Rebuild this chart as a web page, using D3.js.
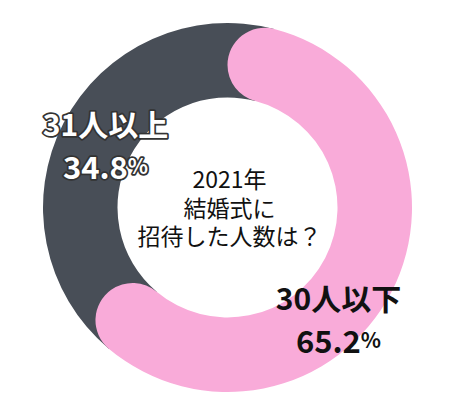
<!DOCTYPE html>
<html>
<head>
<meta charset="utf-8">
<script src="https://cdn.jsdelivr.net/npm/d3@7"></script>
<style>
  body { margin: 0; background: #fff; }
  text { font-family: "Noto Sans CJK JP", "Noto Sans", sans-serif; }
</style>
</head>
<body>
<div id="chart"></div>
<script>
var categories = ["30人以下", "31人以上"];
var values = [65.2, 34.8];
var colors = ["#f9abd9", "#484e57"];
var titleLines = ["2021年", "結婚式に", "招待した人数は？"];

var width = 452,
    height = 414,
    cx = 227.5,
    cy = 207.5,
    outerR = 184.5,
    innerR = 110;

var svg = d3.select("#chart").append("svg")
    .attr("width", width)
    .attr("height", height);

var g = svg.append("g")
    .attr("transform", "translate(" + cx + "," + cy + ")");

var pie = d3.pie().sort(null).value(function(d) { return d; });
var arcs = pie(values);

var half = (outerR - innerR) / 2,
    capAngle = Math.asin(half / (innerR + half));

var arc = d3.arc().innerRadius(innerR).outerRadius(outerR);
var roundArc = d3.arc().innerRadius(innerR).outerRadius(outerR)
    .cornerRadius(half);

// dark slice first, stretched under the rounded ends of the pink one
g.append("path")
    .datum(arcs[1])
    .attr("fill", colors[1])
    .attr("d", function(d) {
      return arc({startAngle: d.startAngle - capAngle, endAngle: d.endAngle + capAngle});
    });

g.append("path")
    .datum(arcs[0])
    .attr("fill", colors[0])
    .attr("d", roundArc);

// center title
g.selectAll("text.title").data(titleLines)
  .join("text")
    .classed("title", true)
    .attr("x", 2)
    .attr("y", function(d, i) { return -29.5 + i * 28.5; })
    .attr("text-anchor", "middle")
    .attr("dominant-baseline", "central")
    .style("font-size", "23px")
    .attr("fill", "#111")
    .text(function(d) { return d; });

// slice labels
var labelPos = [{x: 111, y: 89}, {x: -122, y: -85}];

var labels = g.selectAll("g.label").data(arcs)
  .join("g")
    .classed("label", true)
    .attr("transform", function(d, i) {
      return "translate(" + labelPos[i].x + "," + labelPos[i].y + ")";
    });

labels.each(function(d, i) {
  var sel = d3.select(this);
  var outlined = i == 1;
  function style(t) {
    t.attr("text-anchor", "middle")
      .attr("dominant-baseline", "central")
      .style("font-weight", "bold")
      .attr("fill", outlined ? "#fff" : "#111");
    if (outlined) {
      t.attr("stroke", "#333")
        .attr("stroke-width", 3.5)
        .attr("stroke-linejoin", "round")
        .style("paint-order", "stroke");
    }
    return t;
  }
  style(sel.append("text"))
    .attr("y", 0)
    .style("font-size", "30px")
    .text(categories[i]);
  var pct = style(sel.append("text"))
    .attr("y", 42)
    .style("font-size", "31px");
  pct.append("tspan").text(d3.format(".1f")(d.data));
  pct.append("tspan").style("font-size", "21px").text("%");
});
</script>
</body>
</html>
